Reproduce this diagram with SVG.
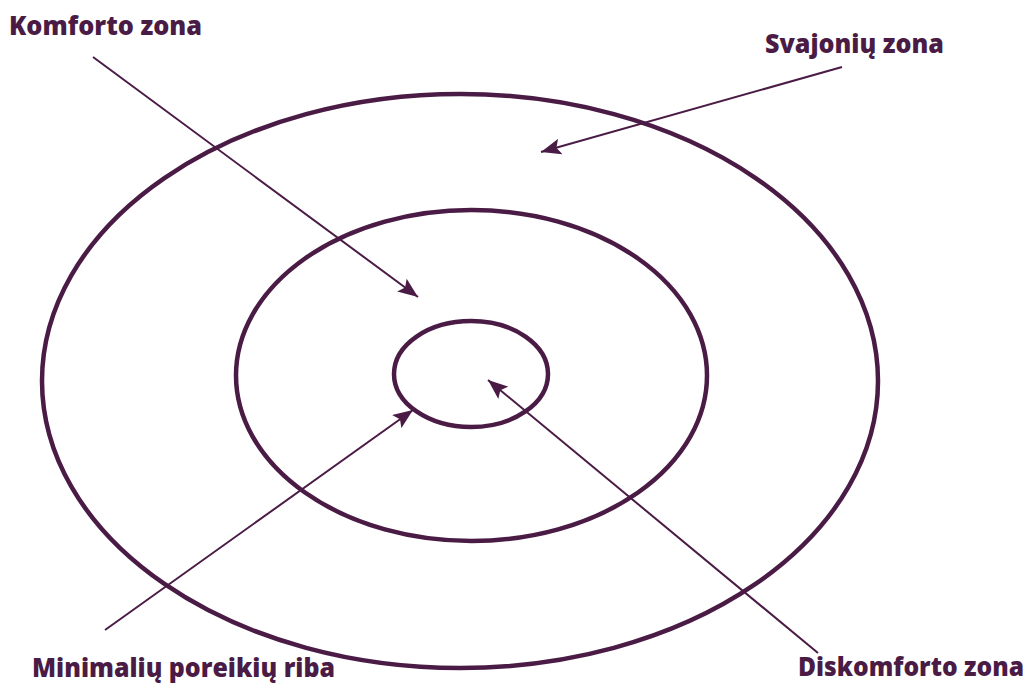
<svg xmlns="http://www.w3.org/2000/svg" width="1030" height="684" viewBox="0 0 1030 684">
<style>
.ring{fill:none;stroke:#4a1c45;stroke-width:4.5}
.arr{stroke:#4a1c45;stroke-width:2;fill:none}
.lbl{font-family:"Open Sans","Liberation Sans",sans-serif;font-weight:800;font-size:27px;fill:#4a1c45}
</style>
<defs>
<marker id="ah" markerUnits="userSpaceOnUse" markerWidth="22" markerHeight="16" refX="20" refY="8" orient="auto">
<path d="M0,0 L20,8 L0,16 L4,8 Z" fill="#4a1c45"/>
</marker>
</defs>
<rect width="1030" height="684" fill="#ffffff"/>
<g id="outer"><ellipse class="ring" cx="460" cy="381" rx="418" ry="287"/></g>
<g id="middle"><ellipse class="ring" cx="471.5" cy="375.5" rx="235.5" ry="165.5"/></g>
<g id="inner"><ellipse class="ring" cx="471" cy="374" rx="77" ry="53"/></g>
<g id="connectors">
<line class="arr" x1="93" y1="57" x2="418" y2="297" marker-end="url(#ah)"/>
<line class="arr" x1="842" y1="67" x2="541" y2="152" marker-end="url(#ah)"/>
<line class="arr" x1="105" y1="630" x2="413" y2="410" marker-end="url(#ah)"/>
<line class="arr" x1="818" y1="653" x2="488" y2="380" marker-end="url(#ah)"/>
</g>
<g id="label-komforto"><text class="lbl" x="9" y="35" textLength="193" lengthAdjust="spacingAndGlyphs">Komforto zona</text></g>
<g id="label-svajoniu"><text class="lbl" x="765" y="53" textLength="179" lengthAdjust="spacingAndGlyphs">Svajonių zona</text></g>
<g id="label-minimaliu"><text class="lbl" x="32" y="677" textLength="303" lengthAdjust="spacingAndGlyphs">Minimalių poreikių riba</text></g>
<g id="label-diskomforto"><text class="lbl" x="1024" y="676" text-anchor="end" textLength="226" lengthAdjust="spacingAndGlyphs">Diskomforto zona</text></g>
</svg>
